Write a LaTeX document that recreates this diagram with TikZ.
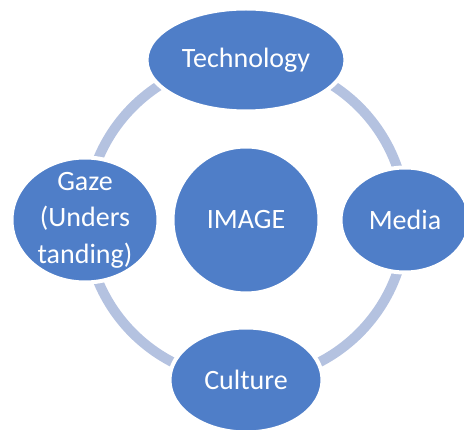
\documentclass[tikz,border=0pt]{standalone}
\usepackage{fontspec}
\setmainfont{Carlito}
\usetikzlibrary{shapes.geometric}
\definecolor{nodeblue}{RGB}{79,126,200}
\definecolor{ringblue}{RGB}{180,194,224}
\begin{document}
\begin{tikzpicture}[x=1pt,y=-1pt,
  blob/.style={ellipse, fill=nodeblue, draw=white, line width=4pt, inner sep=0pt,
    text=white, font=\fontsize{28}{36}\selectfont, align=center},
  txt/.style={text=white, font=\fontsize{28}{36.5}\selectfont, align=center, inner sep=0pt}]
\useasboundingbox (0,0) rectangle (464,430);
\draw[ringblue, line width=10pt] (246,220) circle[radius=160];
\node[blob, circle, minimum size=147pt] (img) at (246,220) {IMAGE};
\node[blob, minimum width=199pt, minimum height=103pt] (tech) at (246,60) {Technology};
\node[blob, minimum width=129pt, minimum height=105pt] (media) at (405,220) {Media};
\node[blob, minimum width=153pt, minimum height=105pt] (cult) at (246,380) {Culture};
\node[blob, minimum width=147pt, minimum height=125pt] (gaze) at (85,220) {};
\node[txt] (gazetext) at (85,220) {Gaze\\(Unders\\tanding)};
\end{tikzpicture}
\end{document}
